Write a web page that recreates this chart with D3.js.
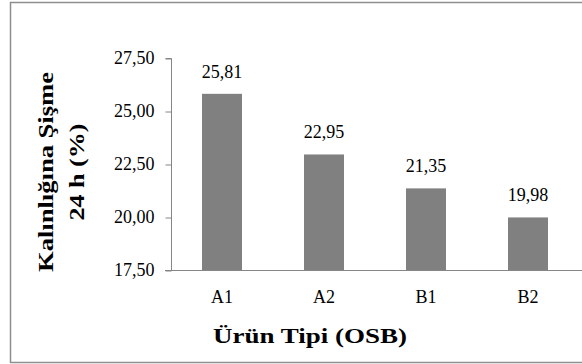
<!DOCTYPE html>
<html><head><meta charset="utf-8">
<script src="https://cdn.jsdelivr.net/npm/d3@7"></script>
<style>body{margin:0;background:#fff}svg{display:block}
svg text{font-family:"Liberation Serif","Times New Roman",Times,"DejaVu Serif",serif !important;}</style>
</head><body>
<script>
const categories = ["A1","A2","B1","B2"];
const values = [25.81, 22.95, 21.35, 19.98];
const yTicks = [17.5, 20, 22.5, 25, 27.5];
const yTitleLines = ["Kalınlığına Şişme", "24 h (%)"];
const xTitle = "Ürün Tipi (OSB)";

const W = 582, H = 364;
const svg = d3.select("body").append("svg").attr("width", W).attr("height", H);
const fmt = v => d3.format(".2f")(v).replace(".", ",");

// outer frame
svg.append("rect").attr("x", 10.5).attr("y", 2.5).attr("width", 600).attr("height", 360)
  .attr("fill", "none").attr("stroke", "#8e8e8e").attr("stroke-width", 1.5);

const x0 = 171, step = 102;
const x = d3.scaleBand().domain(categories).range([x0, x0 + step * categories.length]).paddingInner(0.608).paddingOuter(0.304);
const y = d3.scaleLinear().domain([17.5, 27.5]).range([270, 58]);

// y axis
const ya = svg.append("g").attr("transform", `translate(${x0 + 0.5},0)`)
  .call(d3.axisLeft(y).tickValues(yTicks).tickFormat(fmt).tickSize(6).tickPadding(11));
ya.select(".domain").attr("stroke", "#868686").attr("d", `M-6,${y(27.5)+0.5}H0V${y(17.5)}`);
ya.selectAll(".tick line").attr("stroke", "#868686").attr("transform", "translate(0,0.5)");
ya.selectAll(".tick text").attr("font-size", 18).attr("fill", "#000").attr("dy", "0.32em");

// bars
svg.selectAll("rect.bar").data(values).join("rect").attr("class", "bar")
  .attr("x", (d, i) => x(categories[i])).attr("width", x.bandwidth())
  .attr("y", d => y(d)).attr("height", d => y(17.5) - y(d)).attr("fill", "#808080");

// x axis line
svg.append("line").attr("x1", x0 - 6).attr("x2", 590).attr("y1", y(17.5) + 0.5).attr("y2", y(17.5) + 0.5)
  .attr("stroke", "#868686");

// category labels
svg.selectAll("text.cat").data(categories).join("text").attr("class", "cat")
  .attr("x", d => x(d) + x.bandwidth() / 2).attr("y", 303).attr("text-anchor", "middle")
  .attr("font-size", 18).text(d => d);

// value labels
svg.selectAll("text.val").data(values).join("text").attr("class", "val")
  .attr("x", (d, i) => x(categories[i]) + x.bandwidth() / 2).attr("y", d => y(d) - 16)
  .attr("text-anchor", "middle").attr("font-size", 18).text(fmt);

// y title
const yTitleLen = [200, 97];
svg.selectAll("text.yt").data(yTitleLines).join("text").attr("class", "yt")
  .attr("transform", (d, i) => `translate(${53 + i * 31},172) rotate(-90)`)
  .attr("text-anchor", "middle").attr("font-size", 22).attr("font-weight", "bold")
  .attr("textLength", (d, i) => yTitleLen[i]).attr("lengthAdjust", "spacingAndGlyphs")
  .text(d => d);

// x title
svg.append("text").attr("x", 310).attr("y", 343).attr("text-anchor", "middle")
  .attr("font-size", 22).attr("font-weight", "bold")
  .attr("textLength", 194).attr("lengthAdjust", "spacingAndGlyphs").text(xTitle);
</script>
</body></html>
